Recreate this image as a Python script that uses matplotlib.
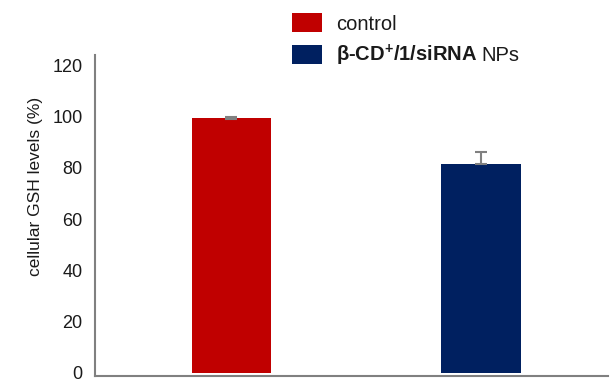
import matplotlib
matplotlib.use("Agg")
import matplotlib.pyplot as plt
from matplotlib.patches import Patch

plt.rcParams["font.family"] = ["Liberation Sans", "DejaVu Sans"]
plt.rcParams["mathtext.default"] = "regular"

# GSH assay results
groups = ["control", "β-CD$^{+}$/1/siRNA"]
gsh_levels = [99.5, 81.5]
err_lower = [0.5, 0.0]
err_upper = [0.5, 4.5]
bar_colors = ["#C00000", "#002060"]

fig = plt.figure(figsize=(6.1, 3.81), dpi=100)
ax = fig.add_axes([95 / 610, 5 / 381, 513 / 610, 321 / 381])

x = range(len(gsh_levels))
ax.bar(x, gsh_levels, width=0.317, color=bar_colors, zorder=2)
ax.errorbar(
    x, gsh_levels, yerr=[err_lower, err_upper], fmt="none",
    ecolor="#808080", elinewidth=1.5, capsize=4, capthick=1.5, zorder=3,
)

ax.set_xlim(-0.547, 1.509)
ax.set_ylim(-1.2, 124)
ax.set_yticks([0, 20, 40, 60, 80, 100, 120])
ax.set_xticks([])
ax.tick_params(axis="y", length=0, pad=9, labelsize=13, labelcolor="#1a1a1a")
ax.set_ylabel("cellular GSH levels (%)", fontsize=12.5, labelpad=7,
              color="#1a1a1a", y=0.59)

for side in ["top", "right"]:
    ax.spines[side].set_visible(False)
for side in ["left", "bottom"]:
    ax.spines[side].set_color("#808080")
    ax.spines[side].set_linewidth(1.5)

handles = [Patch(facecolor=c) for c in bar_colors]
leg = fig.legend(
    handles, groups, loc="upper left",
    bbox_to_anchor=(292 / 610, 1 - 13 / 381), frameon=False,
    fontsize=14.5, handlelength=1.49, handleheight=1.1,
    handletextpad=0.7, labelspacing=0.45, borderpad=0, borderaxespad=0,
)
for t in leg.get_texts():
    t.set_color("#1a1a1a")
leg.get_texts()[1].set_fontweight("bold")

# append the non-bold suffix after the bold label
fig.canvas.draw()
renderer = fig.canvas.get_renderer()
bb = leg.get_texts()[1].get_window_extent(renderer)
fig.text(
    (bb.x1 + 4) / fig.bbox.width, (bb.y0 + bb.y1) / 2 / fig.bbox.height,
    "NPs", fontsize=14.5, va="center", ha="left", color="#1a1a1a",
)

fig.savefig("out.png", dpi=100)
